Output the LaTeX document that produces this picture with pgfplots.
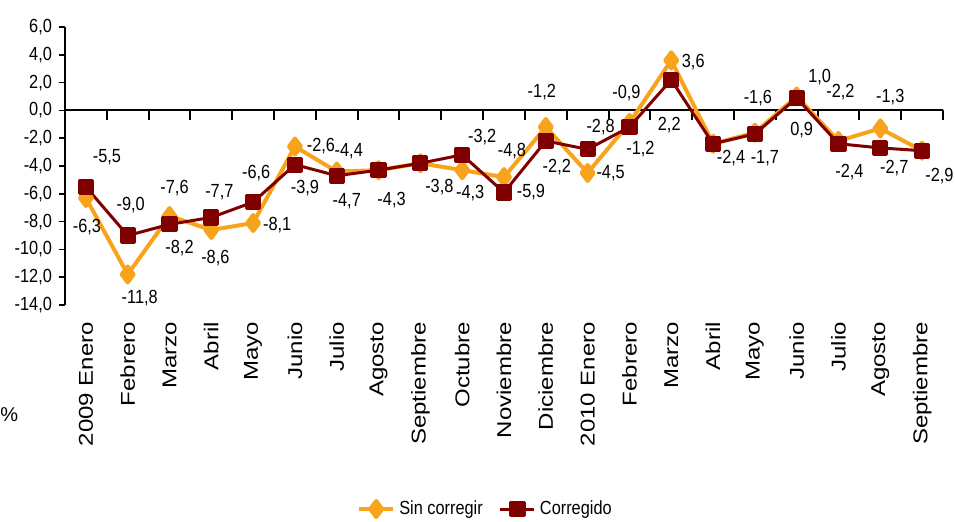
\documentclass[border=0pt]{standalone}
\usepackage{pgfplots}
\pgfplotsset{compat=1.18}
\usepackage{pgfplotstable}
\usepackage{fontspec}
\setmainfont{Liberation Sans}
\newfontfamily\narrowfont[FakeStretch=0.86]{Liberation Sans}
\newfontfamily\widefont[FakeStretch=1.2]{Liberation Sans}
\definecolor{naranja}{RGB}{248,163,28}
\definecolor{granate}{RGB}{128,0,0}

\pgfplotstableread{
x y lab dx dy
0 -6.3 -6,3 0.5 -14.7
1 -11.8 -11,8 6 -12
2 -7.6 -7,6 2.5 14
3 -8.6 -8,6 2 -14
4 -8.1 -8,1 12 -1
5 -2.6 -2,6 13 0
6 -4.4 -4,4 6 10
7 -4.3 {} 0 0
8 -3.8 {} 0 0
9 -4.3 -4,3 4 -11.5
10 -4.8 -4,8 4 13
11 -1.2 -1,2 -2 17.5
12 -4.5 -4,5 11.5 0
13 -0.9 -0,9 -1.5 14.75
14 3.6 3,6 11 -1
15 -2.4 {} 0 0
16 -1.6 -1,6 1.5 17.5
17 1.0 1,0 11.5 9.5
18 -2.2 -2,2 1 24.3
19 -1.3 -1,3 5 15.5
20 -2.9 {} 0 0
}\sincorr

\pgfplotstableread{
x y lab dx dy
0 -5.5 -5,5 10.5 14.8
1 -9.0 -9,0 1.5 15
2 -8.2 -8,2 5 -12
3 -7.7 -7,7 4 12.5
4 -6.6 -6,6 1.5 14.5
5 -3.9 -3,9 5 -11.5
6 -4.7 -4,7 5 -12.5
7 -4.3 -4,3 6.5 -15
8 -3.8 -3,8 9.5 -12
9 -3.2 -3,2 10 9
10 -5.9 -5,9 13.5 0
11 -2.2 -2,2 5.5 -13
12 -2.8 -2,8 6.5 11
13 -1.2 -1,2 5.5 -11
14 2.2 2,2 -1 -22.8
15 -2.4 -2,4 9 -7
16 -1.7 -1,7 5 -12
17 0.9 0,9 2.5 -16
18 -2.4 -2,4 5.5 -14.3
19 -2.7 -2,7 7 -10
20 -2.9 -2,9 8.7 -12.5
}\corr

\begin{document}
\begin{tikzpicture}
\useasboundingbox (0,0) rectangle (477.5pt,-261pt);
\node[font=\fontsize{10}{10}\selectfont, anchor=west, inner sep=0pt] at (0pt,-207.5pt) {\%};
\begin{axis}[
  at={(32.5pt,-152.5pt)}, anchor=south west,
  scale only axis, width=439pt, height=139pt,
  xmin=-0.5, xmax=20.5, ymin=-14, ymax=6,
  axis x line*=bottom, axis y line*=left,
  x axis line style={draw=none},
  y axis line style={black, line width=0.8pt},
  xtick={0,...,20},
  xticklabels={2009 Enero,Febrero,Marzo,Abril,Mayo,Junio,Julio,Agosto,Septiembre,Octubre,Noviembre,Diciembre,2010 Enero,Febrero,Marzo,Abril,Mayo,Junio,Julio,Agosto,Septiembre},
  x tick style={draw=none},
  xticklabel style={font=\widefont\fontsize{10}{10}\selectfont, rotate=90, anchor=east},
  xticklabel shift=2pt,
  ytick={-14,-12,...,6},
  y tick style={black, line width=0.8pt},
  tick align=outside, major tick length=3pt,
  yticklabel style={font=\narrowfont\fontsize{9.5}{10}\selectfont, /pgf/number format/.cd, fixed, fixed zerofill, precision=1, use comma, assume math mode=true},
  legend style={at={(0.48,-0.734)}, anchor=center, draw=none, legend columns=2,
    font=\narrowfont\fontsize{9.5}{10}\selectfont, inner sep=0pt,
    /tikz/every even column/.append style={column sep=6pt}},
  legend cell align=left,
  clip=false,
]
\draw[black, line width=0.9pt] (axis cs:-0.5,0) -- (axis cs:20.5,0);
\addplot[black, line width=1pt, ycomb, mark=none, forget plot] coordinates {
  (0.5,-0.7) (1.5,-0.7) (2.5,-0.7) (3.5,-0.7) (4.5,-0.7) (5.5,-0.7) (6.5,-0.7)
  (7.5,-0.7) (8.5,-0.7) (9.5,-0.7) (10.5,-0.7) (11.5,-0.7) (12.5,-0.7) (13.5,-0.7)
  (14.5,-0.7) (15.5,-0.7) (16.5,-0.7) (17.5,-0.7) (18.5,-0.7) (19.5,-0.7) (20.5,-0.7)};
\addplot[naranja, line width=2pt, line join=round, mark=diamond*, mark size=4pt,
  mark options={solid, fill=naranja},
  point meta=explicit symbolic, nodes near coords,
  visualization depends on={\thisrow{dx} \as \mydx},
  visualization depends on={\thisrow{dy} \as \mydy},
  nodes near coords style={anchor=center, xshift=\mydx pt, yshift=\mydy pt,
    font=\narrowfont\fontsize{9.5}{10}\selectfont, text=black, inner sep=0pt}]
  table[x=x, y=y, meta=lab] {\sincorr};
\addlegendentry{Sin corregir}
\addplot[granate, line width=1.5pt, line join=round, mark=square*, mark size=3.3pt,
  mark options={solid, fill=granate},
  point meta=explicit symbolic, nodes near coords,
  visualization depends on={\thisrow{dx} \as \mydx},
  visualization depends on={\thisrow{dy} \as \mydy},
  nodes near coords style={anchor=center, xshift=\mydx pt, yshift=\mydy pt,
    font=\narrowfont\fontsize{9.5}{10}\selectfont, text=black, inner sep=0pt}]
  table[x=x, y=y, meta=lab] {\corr};
\addlegendentry{Corregido}
\end{axis}
\end{tikzpicture}
\end{document}
